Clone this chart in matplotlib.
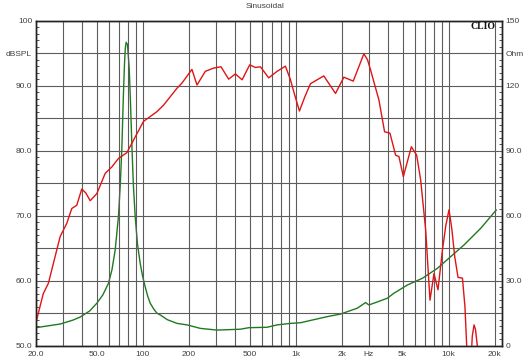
import matplotlib
matplotlib.use('Agg')
import matplotlib.pyplot as plt
from matplotlib.ticker import MultipleLocator, NullFormatter

# SPL response (left axis, dB)
spl_freq = [20, 22.4, 24.2, 28.9, 31.9, 34.4, 37.1, 40, 42.5, 45.4, 50.2, 56.9, 62.9,
            69.5, 78.9, 87.1, 101.3, 124, 137, 167.7, 180.8, 210, 226.7, 256.9, 291,
            325.5, 365, 404, 447, 501, 546, 589, 667, 757, 858, 926, 980, 1060, 1150,
            1251, 1529, 1824, 2068, 2382, 2600, 2795, 2950, 3093, 3505, 3818, 4138,
            4508, 4738, 5064, 5712, 6188, 6572, 7087, 7562, 8032, 8532, 9118, 9600,
            10070, 10500, 10974, 11536, 12328, 12800, 13154, 13400, 13966, 14300,
            14682, 15000, 15454, 15900]
spl_db = [53.4, 58.0, 59.6, 66.8, 68.8, 71.1, 71.6, 74.1, 73.5, 72.3, 73.4, 76.5, 77.5,
          78.8, 79.7, 81.6, 84.5, 86.0, 87.0, 89.6, 90.4, 92.5, 90.1, 92.2, 92.7,
          92.9, 91.0, 91.8, 90.9, 93.2, 92.8, 92.9, 91.2, 92.2, 93.0, 90.9, 88.8, 86.1, 88.3,
          90.3, 91.5, 88.8, 91.3, 90.7, 93.0, 94.9, 94.0, 92.4, 87.8, 82.9, 82.7,
          79.3, 79.1, 76.0, 80.6, 79.3, 75.5, 67.8, 57.0, 61.1, 58.6, 64.7, 68.5,
          70.9, 68.0, 63.7, 60.5, 60.4, 56.0, 49.8, 45.0, 47.0, 51.5,
          53.2, 52.5, 49.8, 45.0]

# impedance (right axis, Ohm)
imp_freq = [20, 28.9, 35, 39, 45, 50.2, 55, 59.8, 63, 66.1, 69.5, 71.5, 73.2, 74.8,
            76.1, 77, 78, 79.6, 81.7, 83.3, 85.1, 87, 89.4, 92.5, 96.4, 100, 103.9, 108,
            112.1, 118, 124, 130.3, 145, 167.7, 195, 238, 306, 435, 494, 651, 757, 926,
            1076, 1609, 1967, 2531, 2867, 3014, 3334, 3977, 4393, 5378, 6742, 8454,
            10331, 12624, 16244, 20500]
imp_ohm = [8.3, 10.0, 11.8, 13.2, 16.0, 19.6, 23.5, 28.8, 35.0, 44.0, 59.6, 75.0, 92.0,
           115.0, 130.0, 137.0, 140.0, 139.0, 128.0, 112.0, 92.0, 74.0, 59.6, 47.0, 38.0,
           32.0, 27.2, 22.8, 19.6, 17.0, 15.0, 14.2, 12.0, 10.3, 9.6, 8.0, 7.2, 7.6, 8.3,
           8.5, 9.6, 10.3, 10.6, 13.4, 14.6, 17.3, 19.9, 18.8, 19.9, 21.9, 24.2, 28.0,
           31.1, 35.7, 41.1, 46.5, 54.2, 62.6]

x_ticks = [20, 50, 100, 200, 500, 1000, 2000, 3000, 5000, 10000, 20000]
x_labels = ['20.0', '50.0', '100', '200', '500', '1k', '2k', 'Hz', '5k', '10k', '20k']
left_labels = ['50.0', '', '60.0', '', '70.0', '', '80.0', '', '90.0', 'dBSPL', '100']
right_labels = ['0', '', '30.0', '', '60.0', '', '90.0', '', '120', 'Ohm', '150']

plt.rcParams['font.family'] = ['Liberation Sans', 'DejaVu Sans']
txt = '#404040'
gridc = '#5c5c5c'

fig = plt.figure(figsize=(5.3, 3.64), dpi=100)
ax = fig.add_axes([0.0674, 0.0503, 0.880, 0.893])
ax2 = ax.twinx()

ax.set_xscale('log')
ax.set_xlim(20, 22400)
ax.set_ylim(50, 100)
ax2.set_ylim(0, 150)

# vertical grid at every 1..9 multiple
grid_x = [m * 10 ** d for d in range(1, 5) for m in range(1, 10) if 20 <= m * 10 ** d <= 20000]
ax.set_xticks(grid_x, minor=True)
ax.set_xticks(x_ticks)
ax.set_xticklabels(x_labels)
ax.xaxis.set_minor_formatter(NullFormatter())
ax.tick_params(axis='x', which='both', length=0, labelsize=6, labelcolor=txt, pad=4)
ax.grid(True, axis='x', which='both', color=gridc, linewidth=0.8)

ax.set_yticks(range(50, 101, 5))
ax.set_yticklabels(left_labels)
ax.yaxis.set_minor_locator(MultipleLocator(1))
ax.tick_params(axis='y', which='major', length=0, labelsize=6, labelcolor=txt, pad=2.5)
ax.tick_params(axis='y', which='minor', direction='in', length=2.5, color='#333333')
ax.grid(True, axis='y', which='major', color=gridc, linewidth=0.8)

ax2.set_yticks(range(0, 151, 15))
ax2.set_yticklabels(right_labels)
ax2.yaxis.set_minor_locator(MultipleLocator(3))
ax2.tick_params(axis='y', which='major', length=0, labelsize=6, labelcolor=txt, pad=2.5)
ax2.tick_params(axis='y', which='minor', direction='in', length=2.5, color='#333333')

ax2.plot(imp_freq, imp_ohm, color='#1f7a1f', linewidth=1.0)
ax.plot(spl_freq, spl_db, color='#e01414', linewidth=1.0)
ax.set_zorder(ax2.get_zorder() + 1)
ax.patch.set_visible(False)

for a in (ax, ax2):
    for s in a.spines.values():
        s.set_color('#222222')
        s.set_linewidth(1.0)

ax.text(0.959, 0.983, 'CLIO', transform=ax.transAxes, ha='center', va='center',
        fontsize=7, fontweight='bold', family='Liberation Serif', color='#111111')
fig.text(0.5, 1 - 7 / 364, 'Sinusoidal', ha='center', va='center', fontsize=6, color=txt)

fig.savefig('out.png', dpi=100)
